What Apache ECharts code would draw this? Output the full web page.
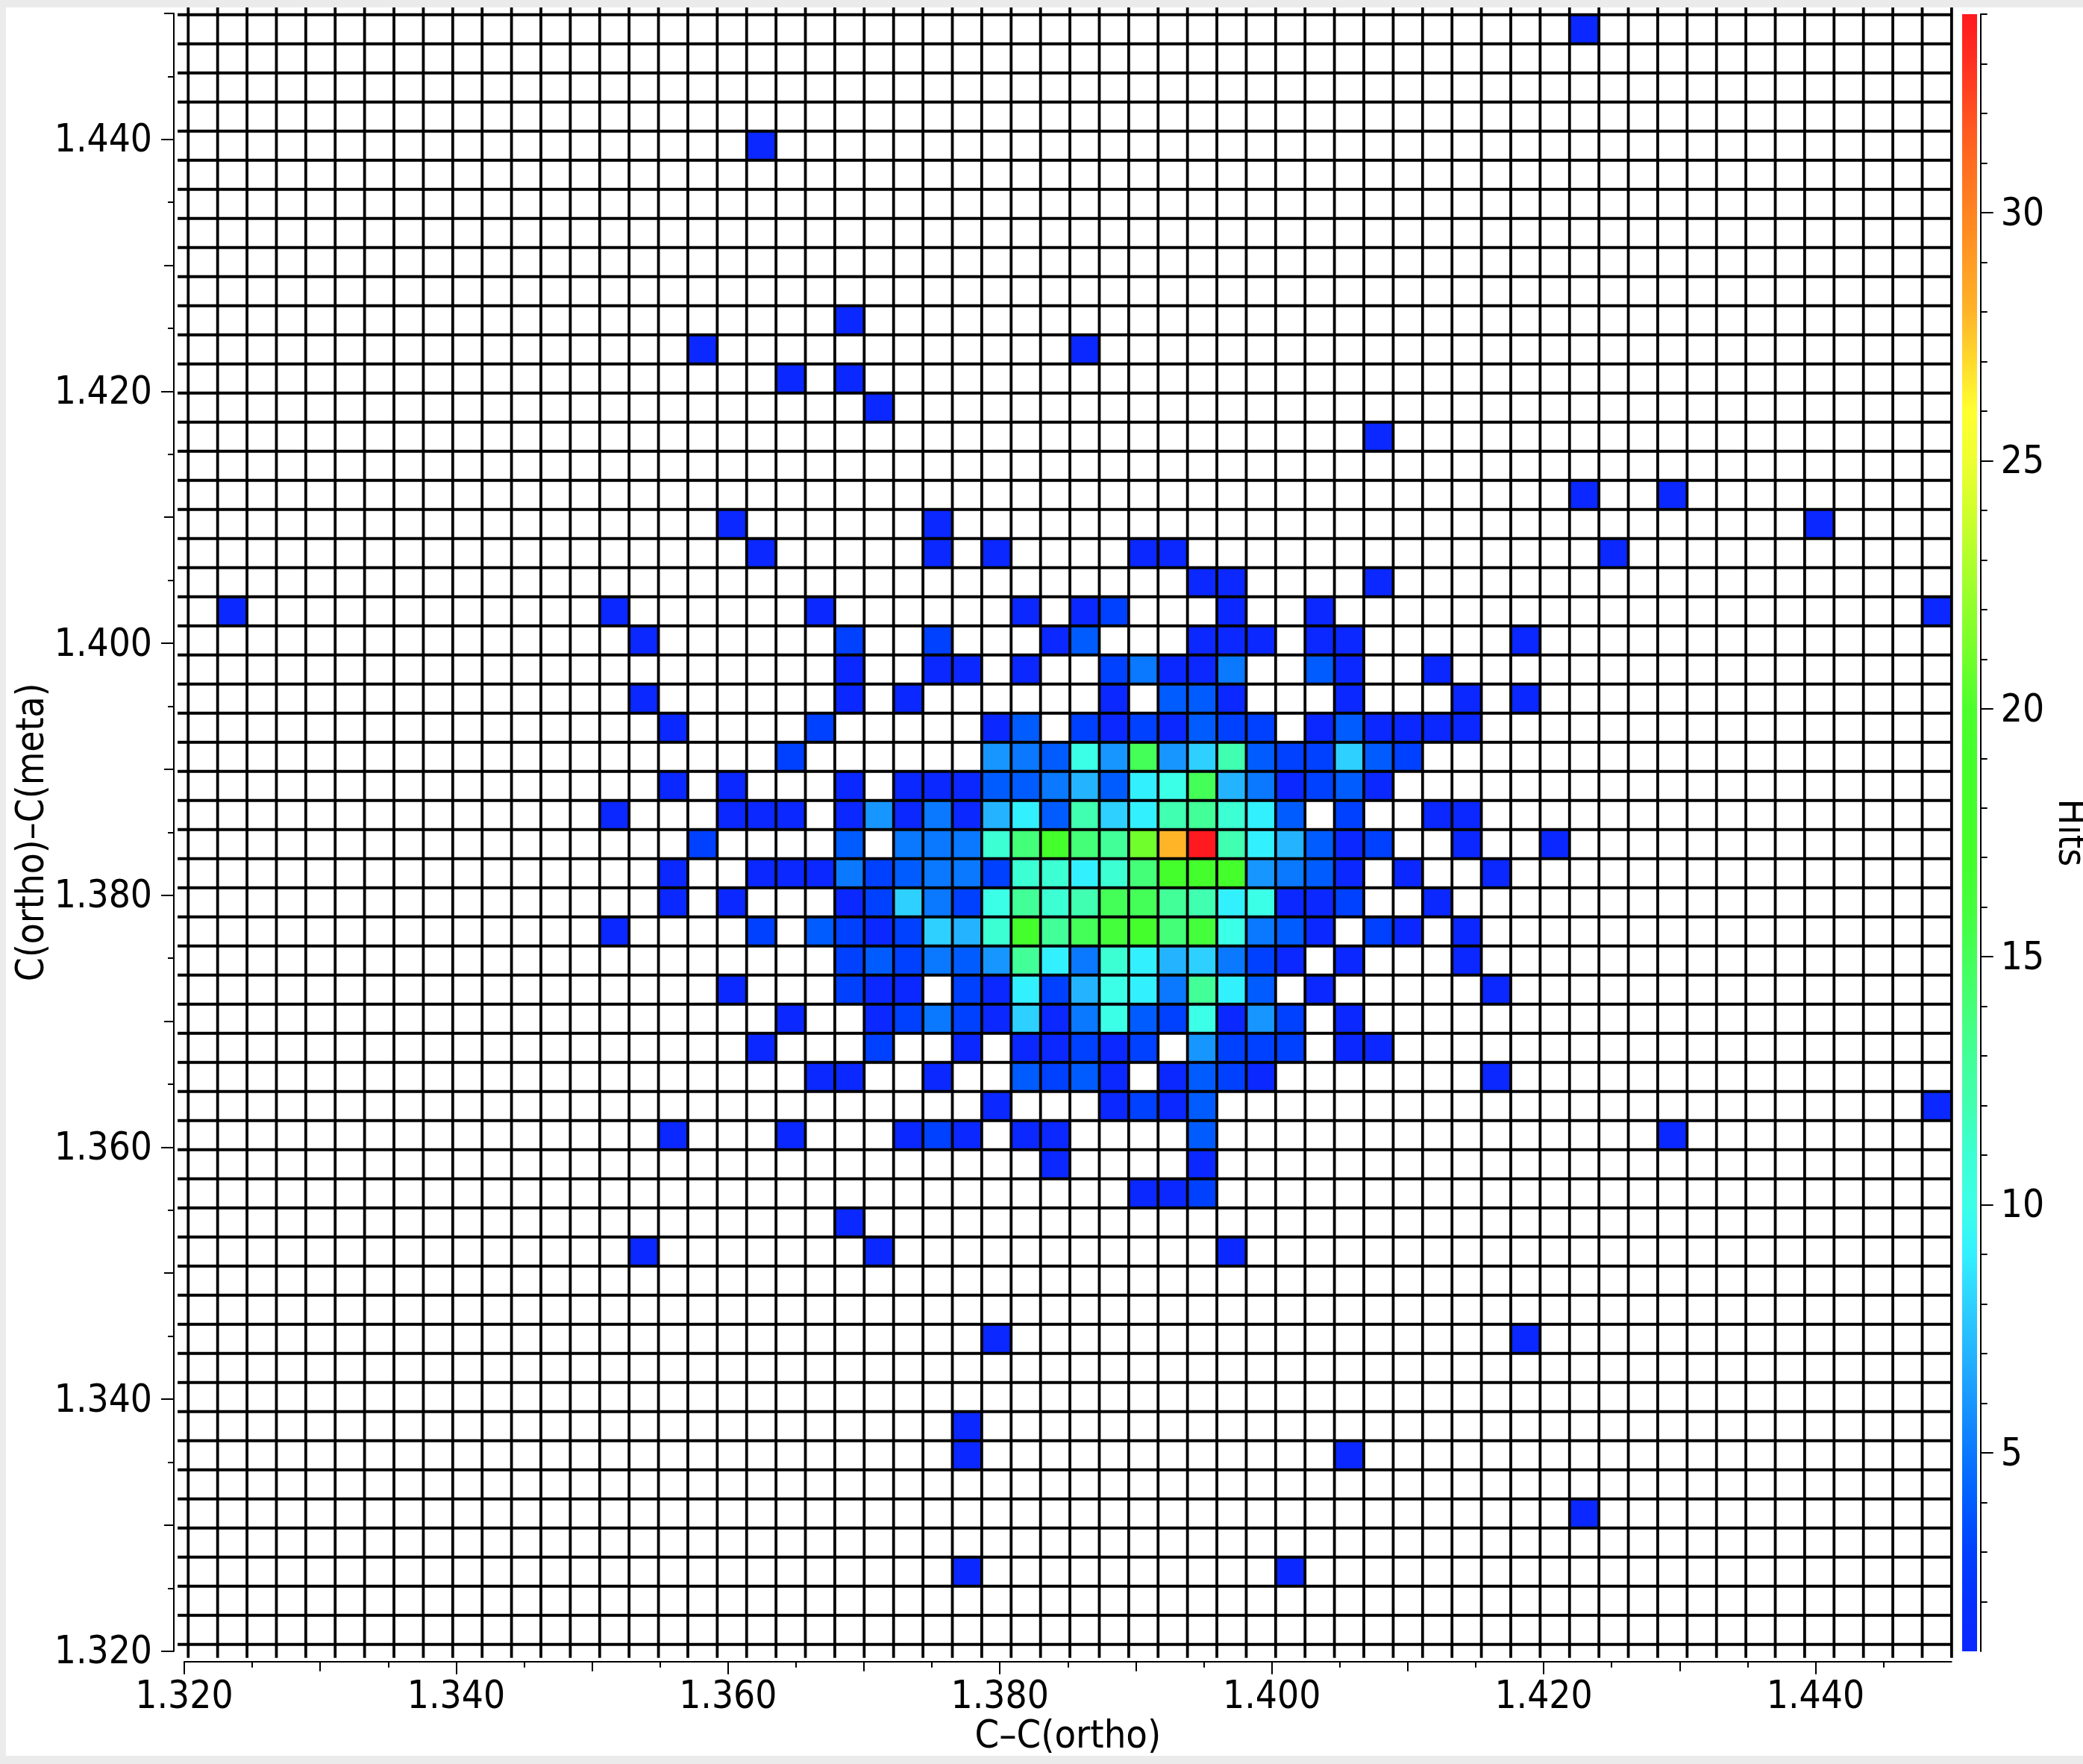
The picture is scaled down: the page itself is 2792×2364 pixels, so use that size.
<!DOCTYPE html>
<html>
<head>
<meta charset="utf-8">
<style>
html,body{margin:0;padding:0;background:#ebebeb;width:2792px;height:2364px;overflow:hidden}
#panel{position:absolute;left:8px;top:10px;width:2784px;height:2343px;background:#fff}
#chart{position:absolute;left:0;top:0;width:2792px;height:2364px}
</style>
<script src="https://cdn.jsdelivr.net/npm/echarts@6/dist/echarts.min.js"></script>
</head>
<body>
<div id="panel"></div>
<div id="chart"></div>
<script>
// Histogram bins: the mesh has 60 columns and 56 rows (row 0 is the top one)
const columnCount = 60, rowCount = 56;
const xFirstEdge = 1.32029, xBinWidth = 0.002162;
const yTopEdge = 1.44989, yBinHeight = 0.00231;

// [column, row, hits]
const hitBins = [
[47,0,1],[19,4,1],[22,10,1],[17,11,1],[30,11,1],[20,12,1],[22,12,1],[23,13,1],[40,14,1],
[47,16,1],[50,16,1],[18,17,1],[25,17,1],[55,17,1],
[19,18,1],[25,18,1],[27,18,1],[32,18,1],[33,18,1],[48,18,1],
[34,19,1],[35,19,1],[40,19,1],
[1,20,1],[14,20,1],[21,20,1],[28,20,1],[30,20,1],[31,20,3],[35,20,1],[38,20,1],[59,20,1],
[15,21,1],[22,21,3],[25,21,3],[29,21,1],[30,21,4],[34,21,1],[35,21,1],[36,21,1],[38,21,1],[39,21,1],[45,21,1],
[22,22,1],[25,22,1],[26,22,1],[28,22,1],[31,22,3],[32,22,5],[33,22,1],[34,22,1],[35,22,5],[38,22,4],[39,22,1],[42,22,1],
[15,23,1],[22,23,1],[24,23,1],[31,23,1],[33,23,4],[34,23,4],[35,23,1],[39,23,1],[43,23,1],[45,23,1],
[16,24,1],[21,24,3],[27,24,1],[28,24,4],[30,24,3],[31,24,1],[32,24,3],[33,24,1],[34,24,4],[35,24,3],[36,24,3],[38,24,1],[39,24,4],[40,24,1],[41,24,1],[42,24,1],[43,24,1],
[20,25,3],[27,25,6],[28,25,5],[29,25,4],[30,25,10],[31,25,6],[32,25,15],[33,25,6],[34,25,8],[35,25,12],[36,25,4],[37,25,3],[38,25,3],[39,25,8],[40,25,4],[41,25,3],
[16,26,1],[18,26,1],[22,26,1],[24,26,1],[25,26,1],[26,26,1],[27,26,4],[28,26,4],[29,26,5],[30,26,7],[31,26,4],[32,26,9],[33,26,10],[34,26,15],[35,26,7],[36,26,5],[37,26,1],[38,26,3],[39,26,4],[40,26,1],
[14,27,1],[18,27,1],[19,27,1],[20,27,1],[22,27,1],[23,27,6],[24,27,1],[25,27,5],[26,27,1],[27,27,7],[28,27,9],[29,27,4],[30,27,12],[31,27,8],[32,27,9],[33,27,12],[34,27,13],[35,27,11],[36,27,9],[37,27,4],[39,27,3],[42,27,1],[43,27,1],
[17,28,3],[22,28,4],[24,28,5],[25,28,5],[26,28,5],[27,28,11],[28,28,14],[29,28,17],[30,28,14],[31,28,13],[32,28,21],[33,28,28],[34,28,34],[35,28,12],[36,28,9],[37,28,7],[38,28,4],[39,28,1],[40,28,3],[43,28,1],[46,28,1],
[16,29,1],[19,29,1],[20,29,1],[21,29,1],[22,29,5],[23,29,3],[24,29,4],[25,29,5],[26,29,5],[27,29,3],[28,29,11],[29,29,11],[30,29,9],[31,29,11],[32,29,14],[33,29,17],[34,29,18],[35,29,17],[36,29,6],[37,29,5],[38,29,4],[39,29,1],[41,29,1],[44,29,1],
[16,30,1],[18,30,1],[22,30,1],[23,30,3],[24,30,8],[25,30,5],[26,30,3],[27,30,10],[28,30,13],[29,30,11],[30,30,12],[31,30,15],[32,30,15],[33,30,13],[34,30,12],[35,30,9],[36,30,10],[37,30,1],[38,30,1],[39,30,3],[42,30,1],
[14,31,1],[19,31,3],[21,31,4],[22,31,3],[23,31,1],[24,31,3],[25,31,8],[26,31,7],[27,31,11],[28,31,18],[29,31,13],[30,31,15],[31,31,16],[32,31,17],[33,31,14],[34,31,16],[35,31,10],[36,31,5],[37,31,4],[38,31,1],[40,31,3],[41,31,1],[43,31,1],
[22,32,3],[23,32,4],[24,32,3],[25,32,5],[26,32,4],[27,32,6],[28,32,13],[29,32,9],[30,32,5],[31,32,11],[32,32,9],[33,32,7],[34,32,8],[35,32,5],[36,32,3],[37,32,1],[39,32,1],[43,32,1],
[18,33,1],[22,33,3],[23,33,1],[24,33,1],[26,33,3],[27,33,1],[28,33,9],[29,33,3],[30,33,7],[31,33,10],[32,33,9],[33,33,5],[34,33,13],[35,33,9],[36,33,4],[38,33,1],[44,33,1],
[20,34,1],[23,34,1],[24,34,3],[25,34,5],[26,34,3],[27,34,1],[28,34,8],[29,34,1],[30,34,5],[31,34,10],[32,34,4],[33,34,3],[34,34,10],[35,34,1],[36,34,6],[37,34,3],[39,34,1],
[19,35,1],[23,35,3],[26,35,1],[28,35,1],[29,35,1],[30,35,3],[31,35,1],[32,35,3],[34,35,6],[35,35,3],[36,35,3],[37,35,3],[39,35,1],[40,35,1],
[21,36,1],[22,36,1],[25,36,1],[28,36,4],[29,36,3],[30,36,4],[31,36,1],[33,36,1],[34,36,4],[35,36,3],[36,36,1],[44,36,1],
[27,37,1],[31,37,1],[32,37,3],[33,37,1],[34,37,4],[59,37,1],
[16,38,1],[20,38,1],[24,38,1],[25,38,3],[26,38,1],[28,38,1],[29,38,1],[34,38,4],[50,38,1],
[29,39,1],[34,39,1],[32,40,1],[33,40,1],[34,40,3],[22,41,1],[15,42,1],[23,42,1],[35,42,1],
[27,45,1],[45,45,1],[26,48,1],[26,49,1],[39,49,1],[47,51,1],[26,53,1],[37,53,1]
];

// Colour for hits = 1, 2, ... 34
const hitColors = ['#0a28ff','#0530ff','#0040ff','#005cff','#0a78ff','#1896ff','#24b4ff','#2ed0ff','#33f0ff','#3cffe8','#3cffd4','#40ffb0','#42ff98','#44ff78','#44ff58','#44ff3c','#44ff2c','#44ff2c','#44ff2c','#4cff2c','#70ff2c','#90ff2c','#b0ff2c','#d0ff2c','#eeff30','#ffff30','#ffda2c','#ffb428','#ff9c24','#ff8420','#ff6c20','#ff5020','#ff3020','#ff1a20'];
const hitMin = 1, hitMax = 34;

// Tick values
const xLabelTicks = [1.32,1.34,1.36,1.38,1.40,1.42,1.44];
const xMidTicks = [1.33,1.35,1.37,1.39,1.41,1.43];
const xMinorTicks = [1.325,1.335,1.345,1.355,1.365,1.375,1.385,1.395,1.405,1.415,1.425,1.435,1.445];
const yLabelTicks = [1.32,1.34,1.36,1.38,1.40,1.42,1.44];
const yMidTicks = [1.33,1.35,1.37,1.39,1.41,1.43,1.45];
const yMinorTicks = [1.325,1.335,1.345,1.355,1.365,1.375,1.385,1.395,1.405,1.415,1.425,1.435,1.445];
const barLabelTicks = [5,10,15,20,25,30];
const barMinorTicks = [2,3,4,6,7,8,9,11,12,13,14,16,17,18,19,21,22,23,24,26,27,28,29,31,32,33,34];

const xTitle = 'C\u2013C(ortho)', yTitle = 'C(ortho)\u2013C(meta)', barTitle = 'Hits';

const FONT = '"DejaVu Sans Condensed","DejaVu Sans",sans-serif';
const INK = '#000';

// Mesh lines run a little past the axis ranges
const meshXStart = 1.31951, meshXEnd = 1.45;
const meshYStart = 1.31947, meshYEnd = 1.45047;

const xEdge = k => xFirstEdge + k * xBinWidth;
const yEdge = k => yTopEdge - k * yBinHeight;

const cellData = hitBins.map(([c, r, v]) => [xEdge(c), yEdge(r + 1), xEdge(c + 1), yEdge(r), v]);
const meshData = [];
for (let c = 0; c <= columnCount; c++) meshData.push([xEdge(c), meshYStart, xEdge(c), meshYEnd]);
for (let r = 0; r <= rowCount; r++) meshData.push([meshXStart, yEdge(r), meshXEnd, yEdge(r)]);

function tierAxis(base, ticks, len, extra) {
  return Object.assign({
    type: 'value', scale: true, silent: true,
    axisLine: {show: false, onZero: false},
    axisTick: {show: true, length: len, customValues: ticks, lineStyle: {color: INK, width: 2}},
    axisLabel: {show: false},
    splitLine: {show: false}
  }, base, extra || {});
}
const lineStyle = {show: true, onZero: false, lineStyle: {color: INK, width: 2}};
const labelStyle = {show: true, color: INK, fontFamily: FONT, fontSize: 51};
const nameStyle = {color: INK, fontFamily: FONT, fontSize: 52};
// Side labels sit a few pixels lower on their ticks than the font's own middle
const loweredRich = {a: {color: INK, fontFamily: FONT, fontSize: 51, padding: [7, 0, 0, 0]}};

const xBase = {gridIndex: 0, min: 1.32, max: 1.45, position: 'bottom', offset: 14};
const yBase = {gridIndex: 0, min: 1.32, max: 1.45, position: 'left', offset: 14};
const barBase = {gridIndex: 1, min: hitMin, max: hitMax, position: 'right', offset: 4.7};

const barStops = hitColors.map((color, i) => ({offset: (hitMax - (hitMin + i)) / (hitMax - hitMin), color})).reverse();

const option = {
  animation: false,
  backgroundColor: 'transparent',
  tooltip: {show: false},
  grid: [
    {left: 247, top: 17.9, width: 2368.7, height: 2194.8, containLabel: false, outerBoundsMode: 'none'},
    {left: 2630, top: 19, width: 20, height: 2194, containLabel: false, outerBoundsMode: 'none'}
  ],
  xAxis: [
    tierAxis(xBase, xLabelTicks, 17, {
      axisLine: lineStyle,
      axisLabel: Object.assign({}, labelStyle, {margin: 24, customValues: xLabelTicks, formatter: v => v.toFixed(3)}),
      name: xTitle, nameLocation: 'middle', nameGap: 76, nameTextStyle: nameStyle, nameMoveOverlap: false
    }),
    tierAxis(xBase, xMidTicks, 13),
    tierAxis(xBase, xMinorTicks, 8),
    {gridIndex: 1, type: 'value', min: 0, max: 1, show: false}
  ],
  yAxis: [
    tierAxis(yBase, yLabelTicks, 17, {
      axisLine: lineStyle,
      axisLabel: Object.assign({}, labelStyle, {margin: 29, rich: loweredRich, customValues: yLabelTicks, formatter: v => '{a|' + v.toFixed(3) + '}'}),
      name: yTitle, nameLocation: 'middle', nameGap: 163,
      nameTextStyle: Object.assign({}, nameStyle, {fontSize: 51}), nameMoveOverlap: false
    }),
    tierAxis(yBase, yMidTicks, 13),
    tierAxis(yBase, yMinorTicks, 8),
    tierAxis(barBase, barLabelTicks, 17, {
      axisLine: lineStyle,
      axisLabel: Object.assign({}, labelStyle, {margin: 27, rich: loweredRich, customValues: barLabelTicks, formatter: v => '{a|' + v + '}'}),
      name: barTitle, nameLocation: 'middle', nameRotate: -90, nameGap: 93, nameTextStyle: nameStyle, nameMoveOverlap: false
    }),
    tierAxis(barBase, barMinorTicks, 9)
  ],
  visualMap: {
    show: false, type: 'continuous', seriesIndex: 0, dimension: 4,
    min: hitMin, max: hitMax, inRange: {color: hitColors}
  },
  series: [
    {
      type: 'custom', xAxisIndex: 0, yAxisIndex: 0, silent: true, clip: false, z: 2,
      data: cellData, encode: {x: [0, 2], y: [1, 3]},
      renderItem(params, api) {
        const a = api.coord([api.value(0), api.value(3)]);
        const b = api.coord([api.value(2), api.value(1)]);
        return {type: 'rect', shape: {x: a[0], y: a[1], width: b[0] - a[0], height: b[1] - a[1]},
                style: {fill: api.visual('color')}};
      }
    },
    {
      type: 'custom', xAxisIndex: 0, yAxisIndex: 0, silent: true, clip: false, z: 3,
      data: meshData, encode: {x: [0, 2], y: [1, 3]},
      renderItem(params, api) {
        const a = api.coord([api.value(0), api.value(1)]);
        const b = api.coord([api.value(2), api.value(3)]);
        return {type: 'line', shape: {x1: a[0], y1: a[1], x2: b[0], y2: b[1]},
                style: {stroke: '#000', lineWidth: 3.8}};
      }
    },
    {
      type: 'custom', xAxisIndex: 3, yAxisIndex: 3, silent: true, clip: false, z: 2,
      data: [[0, hitMin, 1, hitMax]], encode: {x: [0, 2], y: [1, 3]},
      renderItem(params, api) {
        const a = api.coord([api.value(0), api.value(3)]);
        const b = api.coord([api.value(2), api.value(1)]);
        return {type: 'rect', shape: {x: a[0], y: a[1], width: b[0] - a[0], height: b[1] - a[1]},
                style: {fill: new echarts.graphic.LinearGradient(0, 0, 0, 1, barStops)}};
      }
    }
  ]
};
echarts.init(document.getElementById('chart'), null, {renderer: 'canvas'}).setOption(option);
</script>
</body>
</html>
